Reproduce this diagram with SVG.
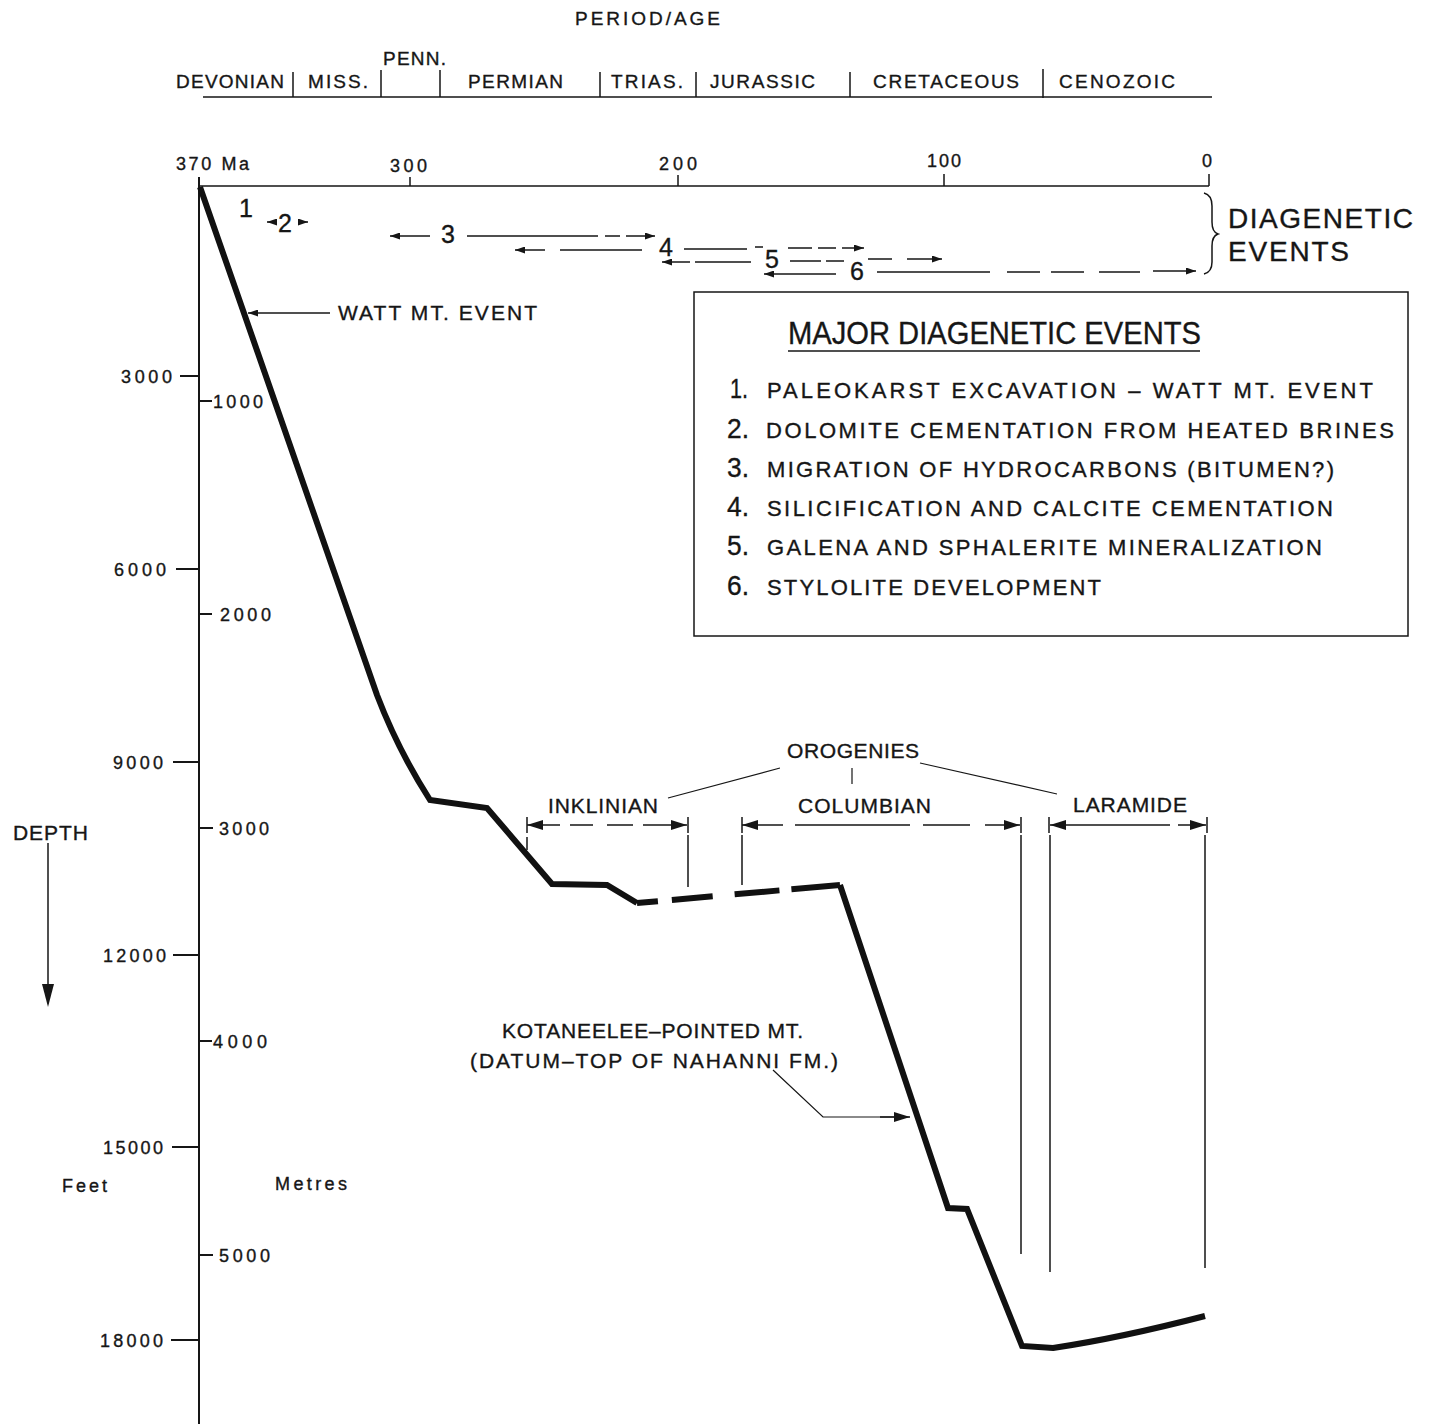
<svg xmlns="http://www.w3.org/2000/svg" width="1429" height="1424" viewBox="0 0 1429 1424">
<style>
text{font-family:"Liberation Sans",Arial,Helvetica,sans-serif;fill:#161616;stroke:#161616;stroke-width:0.35}
.hd{font-size:19px}
.ax{font-size:18px}
.lb{font-size:21px}
.ev{font-size:25px}
.big{font-size:28px}
.item{font-size:22px}
.num{font-size:27px}
.ttl{font-size:31px}
.ln{stroke:#161616;fill:none;stroke-width:1.5}
.th{stroke:#161616;fill:none;stroke-width:1.2}
.ax-line{stroke:#161616;fill:none;stroke-width:2}
.curve{stroke:#111;fill:none;stroke-width:6;stroke-linejoin:miter}
.sm{marker-end:url(#ah)}
.bg{marker-end:url(#ahL)}
.bgs{marker-start:url(#ahL)}
</style>
<defs>
<marker id="ah" viewBox="0 0 10 7" refX="10" refY="3.5" markerWidth="10" markerHeight="7" markerUnits="userSpaceOnUse" orient="auto-start-reverse"><path d="M0,0 L10,3.5 L0,7 Z" fill="#161616"/></marker>
<marker id="ahL" viewBox="0 0 16 10" refX="16" refY="5" markerWidth="16" markerHeight="10" markerUnits="userSpaceOnUse" orient="auto-start-reverse"><path d="M0,0 L16,5 L0,10 Z" fill="#161616"/></marker>
</defs>
<rect width="1429" height="1424" fill="#fff"/>

<g id="period-header">
<text class="hd" x="575" y="25" textLength="145" lengthAdjust="spacing">PERIOD/AGE</text>
<text class="hd" x="383" y="65" textLength="63" lengthAdjust="spacing">PENN.</text>
<text class="hd" x="176" y="88" textLength="108" lengthAdjust="spacing">DEVONIAN</text>
<text class="hd" x="308" y="88" textLength="60" lengthAdjust="spacing">MISS.</text>
<text class="hd" x="468" y="88" textLength="95" lengthAdjust="spacing">PERMIAN</text>
<text class="hd" x="611" y="88" textLength="72" lengthAdjust="spacing">TRIAS.</text>
<text class="hd" x="710" y="88" textLength="105" lengthAdjust="spacing">JURASSIC</text>
<text class="hd" x="873" y="88" textLength="146" lengthAdjust="spacing">CRETACEOUS</text>
<text class="hd" x="1059" y="88" textLength="116" lengthAdjust="spacing">CENOZOIC</text>
<path class="ln" d="M203,97 H1212 M293,72 V97 M381,70 V97 M440,70 V97 M600,72 V97 M696,72 V97 M850,72 V97 M1043,69 V98"/>
</g>

<g id="age-axis">
<text class="ax" x="176" y="170" textLength="73" lengthAdjust="spacing">370 Ma</text>
<text class="ax" x="390" y="172" textLength="37" lengthAdjust="spacing">300</text>
<text class="ax" x="659" y="170" textLength="38" lengthAdjust="spacing">200</text>
<text class="ax" x="927" y="167" textLength="34" lengthAdjust="spacing">100</text>
<text class="ax" x="1202" y="167">0</text>
<path class="ln" d="M199,186 H1209 M410,177 V186 M678,175 V186 M944,174 V186 M1209,174 V186"/>
</g>

<g id="depth-axis">
<path class="ax-line" d="M199,177 V1424"/>
<path class="ax-line" d="M180,376 H199 M176,569 H199 M173,762 H199 M173,955 H199 M172,1147 H199 M171,1340 H199"/>
<path class="ax-line" d="M199,401 H212 M199,614 H212 M199,828 H213 M199,1041 H212 M199,1255 H213"/>
<g text-anchor="end">
<text class="ax" x="172" y="383" textLength="51" lengthAdjust="spacing">3000</text>
<text class="ax" x="166" y="576" textLength="52" lengthAdjust="spacing">6000</text>
<text class="ax" x="163" y="769" textLength="50" lengthAdjust="spacing">9000</text>
<text class="ax" x="166" y="962" textLength="63" lengthAdjust="spacing">12000</text>
<text class="ax" x="163" y="1154" textLength="60" lengthAdjust="spacing">15000</text>
<text class="ax" x="163" y="1347" textLength="63" lengthAdjust="spacing">18000</text>
</g>
<text class="ax" x="213" y="408" textLength="50" lengthAdjust="spacing">1000</text>
<text class="ax" x="220" y="621" textLength="51" lengthAdjust="spacing">2000</text>
<text class="ax" x="219" y="835" textLength="50" lengthAdjust="spacing">3000</text>
<text class="ax" x="213" y="1048" textLength="54" lengthAdjust="spacing">4000</text>
<text class="ax" x="219" y="1262" textLength="51" lengthAdjust="spacing">5000</text>
<text class="ax" x="62" y="1192" textLength="45" lengthAdjust="spacing">Feet</text>
<text class="ax" x="275" y="1190" textLength="72" lengthAdjust="spacing">Metres</text>
<text class="lb" x="13" y="840" textLength="75" lengthAdjust="spacing">DEPTH</text>
<path class="ln" d="M48,843 V990"/>
<path d="M42,984 L54,984 L48,1007 Z" fill="#161616"/>
</g>

<g id="burial-curve">
<path class="curve" d="M200,187 L377,695 Q398,750 430,800 L487,808 L552,884 L607,885 L637,903"/>
<path class="curve" d="M637,903 L840,885" stroke-dasharray="21 14 41 22 45 12 49"/>
<path class="curve" d="M840,885 L948,1208 L967,1209 L1022,1346 L1053,1348 Q1120,1338 1205,1316"/>
</g>

<g id="diagenetic-events">
<text class="ev" x="239" y="217">1</text>
<text class="ev" x="278" y="232">2</text>
<text class="ev" x="441" y="243">3</text>
<text class="ev" x="659" y="256">4</text>
<text class="ev" x="765" y="268">5</text>
<text class="ev" x="850" y="280">6</text>
<path d="M1204,193 Q1212,195 1212,206 L1212,222 Q1212,232 1218,234 Q1212,236 1212,246 L1212,262 Q1212,272 1204,274" class="ln"/>
<text class="big" x="1228" y="228" textLength="185" lengthAdjust="spacing">DIAGENETIC</text>
<text class="big" x="1228" y="261" textLength="121" lengthAdjust="spacing">EVENTS</text>
</g>

<g id="watt-mt-event">
<text class="lb" x="338" y="320" textLength="199" lengthAdjust="spacing">WATT MT. EVENT</text>
</g>

<g id="legend">
<rect x="694" y="292" width="714" height="344" fill="none" stroke="#161616" stroke-width="1.5"/>
<text class="ttl" x="788" y="344" textLength="413" lengthAdjust="spacingAndGlyphs">MAJOR DIAGENETIC EVENTS</text>
<path class="ln" d="M788,351 H1200"/>
<text class="num" x="730" y="398" textLength="18" lengthAdjust="spacingAndGlyphs">1.</text>
<text class="num" x="727" y="438" textLength="22" lengthAdjust="spacingAndGlyphs">2.</text>
<text class="num" x="727" y="477" textLength="22" lengthAdjust="spacingAndGlyphs">3.</text>
<text class="num" x="727" y="516" textLength="22" lengthAdjust="spacingAndGlyphs">4.</text>
<text class="num" x="727" y="555" textLength="22" lengthAdjust="spacingAndGlyphs">5.</text>
<text class="num" x="727" y="595" textLength="22" lengthAdjust="spacingAndGlyphs">6.</text>
<text class="item" x="767" y="398" textLength="606" lengthAdjust="spacing">PALEOKARST EXCAVATION – WATT MT. EVENT</text>
<text class="item" x="766" y="438" textLength="628" lengthAdjust="spacing">DOLOMITE CEMENTATION FROM HEATED BRINES</text>
<text class="item" x="767" y="477" textLength="567" lengthAdjust="spacing">MIGRATION OF HYDROCARBONS (BITUMEN?)</text>
<text class="item" x="767" y="516" textLength="566" lengthAdjust="spacing">SILICIFICATION AND CALCITE CEMENTATION</text>
<text class="item" x="767" y="555" textLength="555" lengthAdjust="spacing">GALENA AND SPHALERITE MINERALIZATION</text>
<text class="item" x="767" y="595" textLength="334" lengthAdjust="spacing">STYLOLITE DEVELOPMENT</text>
</g>

<g id="orogenies">
<text class="lb" x="787" y="758" textLength="132" lengthAdjust="spacing">OROGENIES</text>
<text class="lb" x="548" y="813" textLength="110" lengthAdjust="spacing">INKLINIAN</text>
<text class="lb" x="798" y="813" textLength="133" lengthAdjust="spacing">COLUMBIAN</text>
<text class="lb" x="1073" y="812" textLength="114" lengthAdjust="spacing">LARAMIDE</text>
</g>

<g id="kotaneelee-label">
<text class="lb" x="502" y="1038" textLength="301" lengthAdjust="spacing">KOTANEELEE–POINTED MT.</text>
<text class="lb" x="470" y="1068" textLength="368" lengthAdjust="spacing">(DATUM–TOP OF NAHANNI FM.)</text>
</g>

<g id="connectors">
<path class="ln sm" d="M330,313 H248"/>
<path class="ln sm" d="M276,222 H267"/>
<path class="ln sm" d="M298,222 H308"/>
<path class="ln sm" d="M430,236 H390"/>
<path class="ln" d="M467,236 H598 M605,236 H620"/>
<path class="ln sm" d="M626,236 H655"/>
<path class="ln sm" d="M545,250 H515"/>
<path class="ln" d="M560,250 H642 M684,249 H747 M755,247 H763 M788,248 H812 M818,248 H836"/>
<path class="ln sm" d="M842,248 H864"/>
<path class="ln sm" d="M690,262 H662"/>
<path class="ln" d="M695,262 H751 M790,261 H821 M826,261 H844 M868,259 H892"/>
<path class="ln sm" d="M907,259 H942"/>
<path class="ln sm" d="M836,274 H764"/>
<path class="ln" d="M877,272 H990 M1007,272 H1040 M1051,272 H1084 M1099,272 H1140"/>
<path class="ln sm" d="M1153,271 H1196"/>
<path class="th" d="M780,768 L668,798 M852,768 V784 M920,763 L1057,794"/>
<path class="ln" d="M527,817 V833 M527,837 V850 M688,817 V833 M688,835 V887"/>
<path class="ln bgs" d="M527,825 H560"/>
<path class="ln" d="M570,825 H593 M607,825 H633"/>
<path class="ln bg" d="M643,825 H687"/>
<path class="ln" d="M742,817 V833 M742,835 V885 M1021,817 V833 M1021,835 V1254"/>
<path class="ln bgs" d="M742,825 H783"/>
<path class="ln" d="M795,825 H910 M923,825 H970"/>
<path class="ln bg" d="M985,825 H1020"/>
<path class="ln" d="M1049,817 V833 M1050,835 V1272 M1207,817 V833 M1205,835 V1268"/>
<path class="ln bgs" d="M1050,825 H1170"/>
<path class="ln bg" d="M1178,825 H1206"/>
<path class="th" d="M773,1070 L823,1117 H895"/>
<path class="ln bg" d="M880,1117 H910"/>
</g>
</svg>
